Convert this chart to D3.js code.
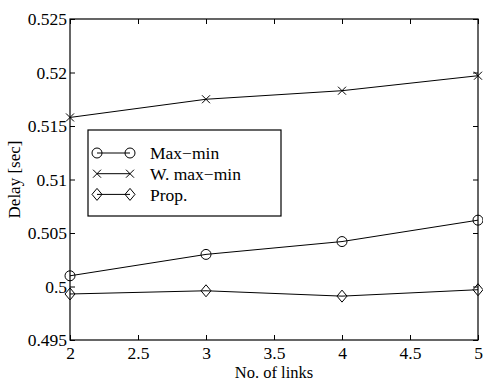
<!DOCTYPE html>
<html>
<head>
<meta charset="utf-8">
<script src="https://cdn.jsdelivr.net/npm/d3@7"></script>
<style>
  body { margin: 0; background: #fff; }
  text { font-family: "Liberation Serif", "Times New Roman", serif; fill: #000; }
</style>
</head>
<body>
<div id="chart"></div>
<script>
var links = [2, 3, 4, 5];
var maxMin = [0.5010, 0.5030, 0.5042, 0.5062];
var wMaxMin = [0.5158, 0.5175, 0.5183, 0.5197];
var prop = [0.4993, 0.4996, 0.4991, 0.4997];
var xTicks = [2, 2.5, 3, 3.5, 4, 4.5, 5];
var yTicks = [0.495, 0.5, 0.505, 0.51, 0.515, 0.52, 0.525];

var width = 483, height = 383;
var margin = {top: 19, right: 5, bottom: 43, left: 70};
var w = width - margin.left - margin.right,
    h = height - margin.top - margin.bottom;

var svg = d3.select("#chart").append("svg")
    .attr("width", width)
    .attr("height", height);

var g = svg.append("g")
    .attr("transform", "translate(" + margin.left + "," + margin.top + ")");

var x = d3.scaleLinear().domain([2, 5]).range([0, w]);
var y = d3.scaleLinear().domain([0.495, 0.525]).range([h, 0]);

// axes with inward ticks, mirrored on top/right
var fmt = function(d) { return d3.format("")(+d.toFixed(3)); };
g.append("g").attr("transform", "translate(0," + h + ")")
    .call(d3.axisBottom(x).tickValues(xTicks).tickSizeInner(-5).tickSizeOuter(0).tickPadding(7).tickFormat(fmt));
g.append("g")
    .call(d3.axisLeft(y).tickValues(yTicks).tickSizeInner(-5).tickSizeOuter(0).tickPadding(3).tickFormat(fmt));
g.append("g")
    .call(d3.axisTop(x).tickValues(xTicks).tickSizeInner(-5).tickSizeOuter(0).tickFormat(""));
g.append("g").attr("transform", "translate(" + w + ",0)")
    .call(d3.axisRight(y).tickValues(yTicks).tickSizeInner(-5).tickSizeOuter(0).tickFormat(""));

g.selectAll(".domain").remove();
g.selectAll(".tick line").attr("stroke", "#000");
g.selectAll(".tick text").style("font-size", "17.5px");

g.append("rect")
    .attr("width", w).attr("height", h)
    .attr("fill", "none").attr("stroke", "#000").attr("stroke-width", 1.2);

var line = d3.line()
    .x(function(d) { return x(d[0]); })
    .y(function(d) { return y(d[1]); });

function marker(sel, type) {
  if (type == "o") {
    sel.append("circle").attr("r", 5)
      .attr("fill", "none").attr("stroke", "#000");
  } else if (type == "x") {
    sel.append("path").attr("d", "M-4,-4L4,4M-4,4L4,-4")
      .attr("stroke", "#000").attr("fill", "none");
  } else {
    sel.append("path").attr("d", "M0,-6L5,0L0,6L-5,0Z")
      .attr("stroke", "#000").attr("fill", "none");
  }
}

var series = [
  {name: "Max\u2212min", values: maxMin, m: "o"},
  {name: "W. max\u2212min", values: wMaxMin, m: "x"},
  {name: "Prop.", values: prop, m: "d"}
];

series.forEach(function(s) {
  var pts = links.map(function(l, i) { return [l, s.values[i]]; });
  g.append("path").datum(pts)
    .attr("d", line)
    .attr("fill", "none").attr("stroke", "#000").attr("stroke-width", 1);
  g.selectAll(null).data(pts).enter().append("g")
    .attr("transform", function(d) { return "translate(" + x(d[0]) + "," + y(d[1]) + ")"; })
    .each(function() { marker(d3.select(this), s.m); });
});

// legend
var legend = svg.append("g").attr("transform", "translate(88,130)");
legend.append("rect")
    .attr("width", 193).attr("height", 86)
    .attr("fill", "#fff").attr("stroke", "#000").attr("stroke-width", 1.2);

var item = legend.selectAll(".legend-item")
    .data(series)
  .enter().append("g")
    .attr("class", "legend-item")
    .attr("transform", function(d, i) { return "translate(0," + (23 + i * 20.7) + ")"; });

item.append("line")
    .attr("x1", 9).attr("x2", 42)
    .attr("stroke", "#000");
item.each(function(d) {
  marker(d3.select(this).append("g").attr("transform", "translate(9,0)"), d.m);
  marker(d3.select(this).append("g").attr("transform", "translate(42,0)"), d.m);
});
item.append("text")
    .attr("x", 62).attr("dy", "0.35em")
    .style("font-size", "17.5px")
    .text(function(d) { return d.name; });

// axis labels
svg.append("text")
    .attr("x", margin.left + w / 2).attr("y", 378)
    .attr("text-anchor", "middle")
    .style("font-size", "16.5px")
    .text("No. of links");

svg.append("text")
    .attr("transform", "translate(20," + (margin.top + h / 2) + ") rotate(-90)")
    .attr("text-anchor", "middle")
    .style("font-size", "17px")
    .text("Delay [sec]");
</script>
</body>
</html>
